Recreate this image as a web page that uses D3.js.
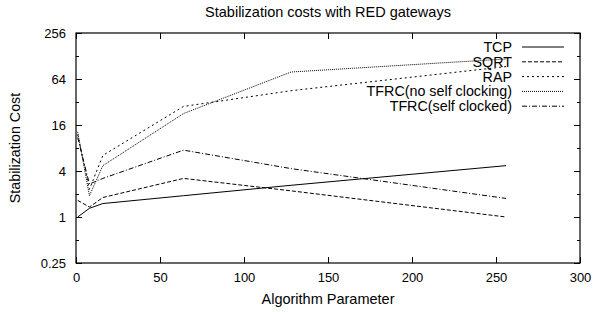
<!DOCTYPE html>
<html>
<head>
<meta charset="utf-8">
<script src="https://d3js.org/d3.v7.min.js"></script>
<style>
body { margin: 0; background: #fff; }
text { font-family: "Liberation Sans", Arial, sans-serif; fill: #000; }
</style>
</head>
<body>
<div id="chart"></div>
<script>
// data
var params = [1, 8, 16, 64, 128, 256];
var tcp = [1.0, 1.3, 1.5, 1.9, 2.6, 4.7];
var sqrtCost = [1.65, 1.35, 1.8, 3.2, 2.2, 1.0];
var rap = [12, 2.3, 6.4, 28, 45, 93];
var tfrcNoSelf = [13, 1.9, 4.7, 22.6, 79, 117];
var tfrcSelf = [11, 2.7, 3.2, 7.5, 4.3, 1.75];

var seriesNames = ["TCP", "SQRT", "RAP", "TFRC(no self clocking)", "TFRC(self clocked)"];
var seriesValues = [tcp, sqrtCost, rap, tfrcNoSelf, tfrcSelf];
var dashes = ["none", "4,2", "2,3", "1,1", "5,2,1,2"];

var xTicks = [0, 50, 100, 150, 200, 250, 300];
var yTicks = [0.25, 1, 4, 16, 64, 256];
var yMinor = [0.5, 2, 8, 32, 128];

var W = 593, H = 312;
var margin = {top: 33, right: 13, bottom: 49, left: 76};
var width = W - margin.left - margin.right;
var height = H - margin.top - margin.bottom;

var svg = d3.select("#chart").append("svg")
  .attr("width", W)
  .attr("height", H);

var x = d3.scaleLinear().domain([0, 300]).range([0, width]);
var y = d3.scaleLog().base(2).domain([0.25, 256]).range([height, 0]);

var g = svg.append("g")
  .attr("transform", "translate(" + margin.left + "," + margin.top + ")");

// axes, gnuplot style ticks pointing inside
g.append("g")
  .attr("transform", "translate(0," + height + ")")
  .call(d3.axisBottom(x).tickValues(xTicks).tickSize(-6).tickPadding(10).tickFormat(d3.format("d")));
g.append("g")
  .call(d3.axisTop(x).tickValues(xTicks).tickSize(-6).tickFormat(""));
g.append("g")
  .call(d3.axisLeft(y).tickValues(yTicks).tickSize(-6).tickPadding(10).tickFormat(function(d){ return d; }));
g.append("g")
  .call(d3.axisLeft(y).tickValues(yMinor).tickSize(-3).tickFormat(""));
g.append("g")
  .attr("transform", "translate(" + width + ",0)")
  .call(d3.axisRight(y).tickValues(yTicks).tickSize(-6).tickFormat(""));
g.append("g")
  .attr("transform", "translate(" + width + ",0)")
  .call(d3.axisRight(y).tickValues(yMinor).tickSize(-3).tickFormat(""));

g.selectAll(".domain").remove();
g.selectAll(".tick line").attr("stroke", "#000");
g.selectAll(".tick text").style("font-size", "13px");

// frame
g.append("rect")
  .attr("width", width)
  .attr("height", height)
  .attr("fill", "none")
  .attr("stroke", "#000")
  .attr("stroke-width", 1.2);

// lines
var line = d3.line()
  .x(function(d, i){ return x(params[i]); })
  .y(function(d){ return y(d); });

g.selectAll(".series")
  .data(seriesValues)
  .enter()
  .append("path")
  .attr("class", "series")
  .attr("fill", "none")
  .attr("stroke", "#000")
  .attr("stroke-width", 1)
  .attr("stroke-dasharray", function(d, i){ return dashes[i]; })
  .attr("d", line);

// legend
var legend = g.selectAll(".legend")
  .data(seriesNames)
  .enter()
  .append("g")
  .attr("class", "legend")
  .attr("transform", function(d, i){ return "translate(0," + (14 + i * 14.8) + ")"; });

legend.append("text")
  .attr("x", 436)
  .attr("y", 5)
  .attr("text-anchor", "end")
  .style("font-size", "14.3px")
  .text(function(d){ return d; });

legend.append("line")
  .attr("x1", 446)
  .attr("x2", 488)
  .attr("stroke", "#000")
  .attr("stroke-dasharray", function(d, i){ return dashes[i]; });

// titles
svg.append("text")
  .attr("x", margin.left + width / 2)
  .attr("y", 17)
  .attr("text-anchor", "middle")
  .style("font-size", "14.5px")
  .text("Stabilization costs with RED gateways");

svg.append("text")
  .attr("x", margin.left + width / 2)
  .attr("y", 304)
  .attr("text-anchor", "middle")
  .style("font-size", "14.5px")
  .text("Algorithm Parameter");

svg.append("text")
  .attr("transform", "translate(20," + (margin.top + height / 2) + ") rotate(-90)")
  .attr("text-anchor", "middle")
  .style("font-size", "14.3px")
  .text("Stabilization Cost");
</script>
</body>
</html>
